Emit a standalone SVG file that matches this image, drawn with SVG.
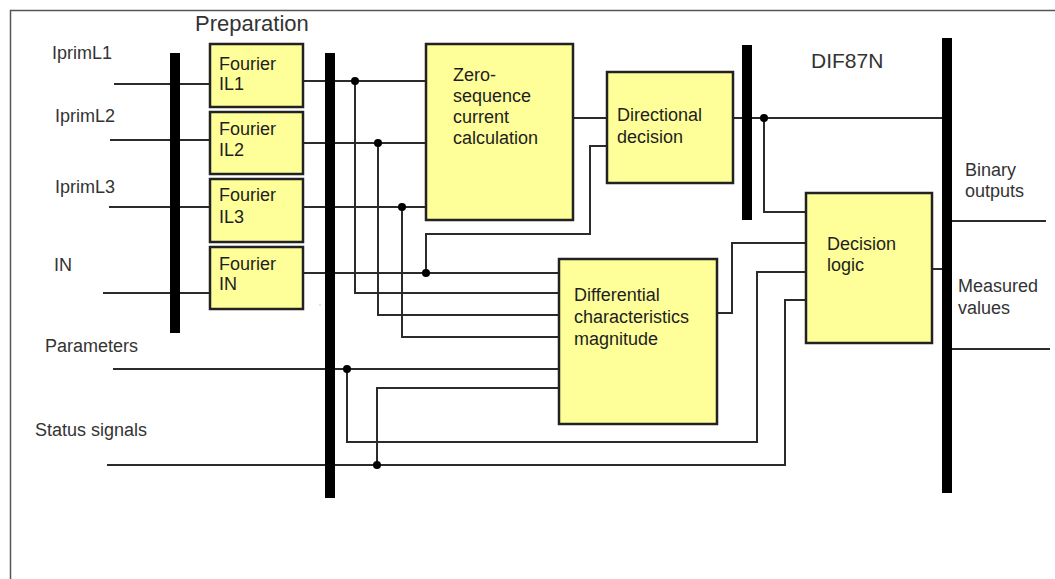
<svg xmlns="http://www.w3.org/2000/svg" width="1055" height="579" viewBox="0 0 1055 579">
<style>
text{font-family:"Liberation Sans",Arial,sans-serif;font-size:18px;fill:#333}
.big{font-size:22px}
.mid{font-size:21px}
.box{fill:#ffff99;stroke:#222;stroke-width:2.5}
.bt{fill:#1e1e1e}
.bar{fill:#000}
.w{fill:none;stroke:#2b2b2b;stroke-width:2}
.dot{fill:#000}
</style>
<rect width="1055" height="579" fill="#fff"/>
<path d="M10.5 579 V10.5 H1055" fill="none" stroke="#555" stroke-width="1.5"/>
<g id="labels">
<text class="big" x="195" y="31">Preparation</text>
<text class="mid" x="811" y="68">DIF87N</text>
<text x="52" y="59">IprimL1</text>
<text x="55" y="122">IprimL2</text>
<text x="55" y="193">IprimL3</text>
<text x="54" y="271">IN</text>
<text x="45" y="352">Parameters</text>
<text x="35" y="436">Status signals</text>
<text x="965" y="176">Binary</text>
<text x="965" y="197">outputs</text>
<text x="958" y="292">Measured</text>
<text x="958" y="314">values</text>
</g>
<g id="connectors">
<path class="w" d="M114 84H210M110 140H210M109 207H210M103 293H210"/>
<path class="w" d="M303 81H426M303 143H426M303 207H426M303 273H559"/>
<path class="w" d="M355 81V293H559M378 143V315H559M402 207V337H559"/>
<path class="w" d="M426 273V234H590V146H607"/>
<path class="w" d="M573 118H607M733 118H942M764 118V212H806"/>
<path class="w" d="M717 313H732V243H806"/>
<path class="w" d="M113 369H559M347 369V442H757V272H806"/>
<path class="w" d="M107 465H785V300H806M377 465V388H559"/>
<path class="w" d="M932 269H942M952 221H1046M952 349H1050"/>
<circle class="dot" cx="355" cy="81" r="4"/>
<circle class="dot" cx="378" cy="143" r="4"/>
<circle class="dot" cx="402" cy="207" r="4"/>
<circle class="dot" cx="426" cy="273" r="4"/>
<circle class="dot" cx="764" cy="118" r="4"/>
<circle class="dot" cx="347" cy="369" r="4"/>
<circle class="dot" cx="377" cy="465" r="4"/>
<rect x="319.5" y="304.5" width="1" height="1" fill="#888"/>
</g>
<g id="bars">
<rect class="bar" x="170" y="53" width="10" height="280"/>
<rect class="bar" x="325" y="53" width="10" height="445"/>
<rect class="bar" x="742" y="45" width="10" height="175"/>
<rect class="bar" x="942" y="38" width="10" height="455"/>
</g>
<g id="fourier-il1"><rect class="box" x="210" y="44" width="93" height="63"/><text class="bt" x="219" y="70">Fourier</text><text class="bt" x="219" y="90">IL1</text></g>
<g id="fourier-il2"><rect class="box" x="210" y="112" width="93" height="62"/><text class="bt" x="219" y="135">Fourier</text><text class="bt" x="219" y="156">IL2</text></g>
<g id="fourier-il3"><rect class="box" x="210" y="179" width="93" height="63"/><text class="bt" x="219" y="201">Fourier</text><text class="bt" x="219" y="223">IL3</text></g>
<g id="fourier-in"><rect class="box" x="210" y="247" width="93" height="62"/><text class="bt" x="219" y="270">Fourier</text><text class="bt" x="219" y="290">IN</text></g>
<g id="zero-sequence"><rect class="box" x="426" y="44" width="147" height="176"/><text class="bt" x="453" y="81">Zero-</text><text class="bt" x="453" y="102">sequence</text><text class="bt" x="453" y="123">current</text><text class="bt" x="453" y="144">calculation</text></g>
<g id="directional"><rect class="box" x="607" y="72" width="126" height="111"/><text class="bt" x="617" y="121">Directional</text><text class="bt" x="617" y="143">decision</text></g>
<g id="differential"><rect class="box" x="559" y="259" width="158" height="165"/><text class="bt" x="574" y="301">Differential</text><text class="bt" x="574" y="323">characteristics</text><text class="bt" x="574" y="345">magnitude</text></g>
<g id="decision-logic"><rect class="box" x="806" y="193" width="126" height="150"/><text class="bt" x="827" y="250">Decision</text><text class="bt" x="827" y="271">logic</text></g>
</svg>
